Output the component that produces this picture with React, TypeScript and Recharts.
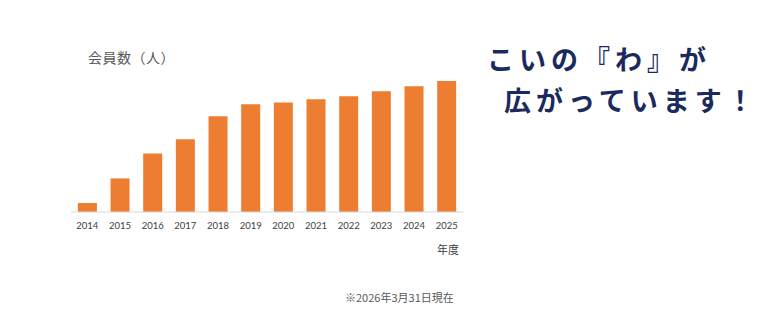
import { BarChart, Bar, XAxis, YAxis } from 'recharts';

const years = ['2014', '2015', '2016', '2017', '2018', '2019', '2020', '2021', '2022', '2023', '2024', '2025'];
const members = [27, 101, 176, 219, 288, 324, 329, 339, 348, 363, 378, 394];

const data = years.map((year, i) => ({ year, members: members[i] }));

const jp = '"Noto Sans CJK JP", "Noto Sans", sans-serif';

export default function App() {
  return (
    <div style={{ position: 'absolute', left: 0, top: 0, width: 780, height: 312, background: '#fff', overflow: 'hidden' }}>
      <div style={{ position: 'absolute', left: 88, top: 47, fontFamily: jp, fontSize: 14, color: '#595959', letterSpacing: 0.5 }}>
        会員数（人）
      </div>
      <div style={{ position: 'absolute', left: 60, top: 0 }}>
        <BarChart
          width={420}
          height={240}
          data={data}
          margin={{ top: 79, right: 17, left: 11, bottom: 8 }}
          barCategoryGap="21%"
        >
          <XAxis
            dataKey="year"
            height={20}
            tickLine={false}
            axisLine={{ stroke: '#d9d9d9' }}
            tickMargin={4}
            interval={0}
            tick={{ fontFamily: 'Lato, sans-serif', fontSize: 9.5, fill: '#404040' }}
          />
          <YAxis hide domain={[0, 400]} />
          <Bar dataKey="members" fill="#ED7D31" isAnimationActive={false} />
        </BarChart>
      </div>
      <div style={{ position: 'absolute', left: 437, top: 241, fontFamily: jp, fontSize: 11, color: '#404040' }}>
        年度
      </div>
      <div style={{ position: 'absolute', left: 345, top: 289, fontFamily: jp, fontSize: 11, color: '#595959' }}>
        ※2026年3月31日現在
      </div>
      <div style={{ position: 'absolute', left: 487, top: 38, fontFamily: jp, fontWeight: 700, fontSize: 27, color: '#1b2a5c', letterSpacing: 5, lineHeight: '41px', whiteSpace: 'nowrap' }}>
        <div>こいの『わ』が</div>
        <div style={{ paddingLeft: 17 }}>広がっています！</div>
      </div>
    </div>
  );
}
